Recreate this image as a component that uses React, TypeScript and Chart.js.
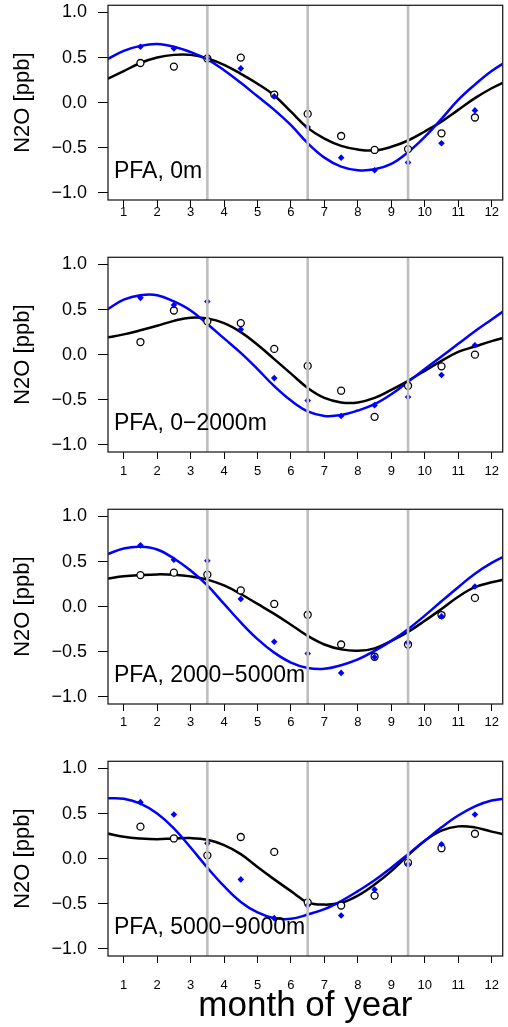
import React, { useEffect, useRef } from "react";
import { Chart, registerables } from "chart.js";

Chart.register(...registerables);

const FONT = '"Liberation Sans", Arial, Helvetica, sans-serif';

// ---------------- data ----------------
const fitMonths = [0.5, 1, 1.5, 2, 2.5, 3, 3.5, 4, 4.5, 5, 5.5, 6, 6.5, 7, 7.5, 8, 8.5, 9, 9.5, 10, 10.5, 11, 11.5, 12, 12.5];
const obsMonths = [1.5, 2.5, 3.5, 4.5, 5.5, 6.5, 7.5, 8.5, 9.5, 10.5, 11.5];
const xTickValues = [1, 2, 3, 4, 5, 6, 7, 8, 9, 10, 11, 12];
const yTickValues = [-1, -0.5, 0, 0.5, 1];
const seasonBounds = [3.5, 6.5, 9.5];
const panelLabels = ["PFA, 0m", "PFA, 0\u22122000m", "PFA, 2000\u22125000m", "PFA, 5000\u22129000m"];

// PFA, 0m
const obsBlack0m = [0.44, 0.40, 0.49, 0.50, 0.09, -0.125, -0.37, -0.525, -0.515, -0.34, -0.165];
const obsBlue0m = [0.62, 0.60, 0.49, 0.38, 0.07, -0.27, -0.61, -0.75, -0.665, -0.45, -0.086];
const fitBlack0m = [0.26, 0.35, 0.44, 0.50, 0.53, 0.53, 0.49, 0.42, 0.32, 0.21, 0.08, -0.10, -0.28, -0.40, -0.48, -0.52, -0.53, -0.49, -0.42, -0.32, -0.21, -0.08, 0.05, 0.16, 0.25];
const fitBlue0m = [0.48, 0.575, 0.63, 0.65, 0.62, 0.56, 0.48, 0.36, 0.22, 0.07, -0.08, -0.25, -0.45, -0.61, -0.71, -0.75, -0.74, -0.68, -0.55, -0.38, -0.18, 0.03, 0.20, 0.35, 0.47];

// PFA, 0-2000m
const obsBlack0to2000 = [0.14, 0.49, 0.37, 0.35, 0.064, -0.125, -0.40, -0.69, -0.345, -0.13, 0.0];
const obsBlue0to2000 = [0.63, 0.55, 0.59, 0.28, -0.26, -0.51, -0.68, -0.56, -0.47, -0.226, 0.105];
const fitBlack0to2000 = [0.19, 0.225, 0.27, 0.32, 0.375, 0.41, 0.40, 0.35, 0.25, 0.11, -0.05, -0.21, -0.37, -0.48, -0.53, -0.53, -0.48, -0.39, -0.29, -0.18, -0.07, 0.03, 0.09, 0.15, 0.20];
const fitBlue0to2000 = [0.50, 0.61, 0.66, 0.66, 0.59, 0.49, 0.34, 0.18, 0.02, -0.16, -0.35, -0.51, -0.63, -0.68, -0.67, -0.62, -0.55, -0.44, -0.30, -0.16, -0.02, 0.12, 0.26, 0.39, 0.52];

// PFA, 2000-5000m
const obsBlack2000to5000 = [0.35, 0.377, 0.355, 0.18, 0.03, -0.09, -0.42, -0.556, -0.42, -0.093, 0.097];
const obsBlue2000to5000 = [0.68, 0.52, 0.51, 0.086, -0.39, -0.52, -0.735, -0.56, -0.40, -0.108, 0.224];
const fitBlack2000to5000 = [0.31, 0.336, 0.35, 0.358, 0.354, 0.336, 0.30, 0.235, 0.14, 0.03, -0.08, -0.20, -0.325, -0.42, -0.474, -0.49, -0.463, -0.38, -0.28, -0.157, -0.026, 0.11, 0.216, 0.27, 0.31];
const fitBlue2000to5000 = [0.58, 0.645, 0.664, 0.634, 0.534, 0.40, 0.235, 0.03, -0.175, -0.36, -0.51, -0.62, -0.68, -0.69, -0.65, -0.586, -0.49, -0.38, -0.25, -0.10, 0.06, 0.216, 0.366, 0.485, 0.58];

// PFA, 5000-9000m
const obsBlack5000to9000 = [0.355, 0.224, 0.037, 0.24, 0.075, -0.485, -0.52, -0.41, -0.045, 0.116, 0.276];
const obsBlue5000to9000 = [0.627, 0.49, 0.17, -0.23, -0.66, -0.52, -0.63, -0.343, -0.063, 0.16, 0.49];
const fitBlack5000to9000 = [0.28, 0.243, 0.224, 0.216, 0.224, 0.228, 0.209, 0.15, 0.05, -0.093, -0.23, -0.36, -0.485, -0.51, -0.49, -0.41, -0.287, -0.138, 0.037, 0.198, 0.31, 0.358, 0.347, 0.30, 0.26];
const fitBlue5000to9000 = [0.67, 0.664, 0.61, 0.50, 0.336, 0.123, -0.10, -0.306, -0.48, -0.597, -0.66, -0.668, -0.62, -0.56, -0.47, -0.36, -0.24, -0.10, 0.05, 0.198, 0.347, 0.478, 0.58, 0.645, 0.67];

const panels = [
  { label: panelLabels[0], obsBlack: obsBlack0m, obsBlue: obsBlue0m, fitBlack: fitBlack0m, fitBlue: fitBlue0m },
  { label: panelLabels[1], obsBlack: obsBlack0to2000, obsBlue: obsBlue0to2000, fitBlack: fitBlack0to2000, fitBlue: fitBlue0to2000 },
  { label: panelLabels[2], obsBlack: obsBlack2000to5000, obsBlue: obsBlue2000to5000, fitBlack: fitBlack2000to5000, fitBlue: fitBlue2000to5000 },
  { label: panelLabels[3], obsBlack: obsBlack5000to9000, obsBlue: obsBlue5000to9000, fitBlack: fitBlack5000to9000, fitBlue: fitBlue5000to9000 },
];

// ---------------- layout ----------------
const WIDTH = 508;
const PANEL_STEP = 252;
const PANEL_H = 252;
const LAST_H = 271;
const AREA_TOP = 5;
const AREA_BOTTOM = 200;
const AXIS_W = 108;
const tickLabelPad = [-1.2, 5.5, 5.2, 15.5];

const toPts = (xs: number[], ys: number[]) => xs.map((x, i) => ({ x, y: ys[i] }));
const fmtY = (v: number) => (v < 0 ? "\u2212" : "") + Math.abs(v).toFixed(1);

function Panel({ idx }: { idx: number }) {
  const ref = useRef<HTMLCanvasElement | null>(null);
  const isLast = idx === panels.length - 1;
  const h = isLast ? LAST_H : PANEL_H;

  useEffect(() => {
    if (!ref.current) return;
    const p = panels[idx];

    const overlay = {
      id: "overlay" + idx,
      afterDatasetsDraw(chart: any) {
        const { ctx, chartArea: a, scales } = chart;
        const xs = scales.x;
        ctx.save();
        ctx.strokeStyle = "#bebebe";
        ctx.lineWidth = 2.6;
        seasonBounds.forEach((m) => {
          const px = xs.getPixelForValue(m);
          ctx.beginPath();
          ctx.moveTo(px, a.top);
          ctx.lineTo(px, a.bottom);
          ctx.stroke();
        });
        ctx.fillStyle = "#000";
        ctx.font = "23px " + FONT;
        ctx.textBaseline = "alphabetic";
        ctx.textAlign = "left";
        ctx.fillText(p.label, a.left + 6, a.top + 173);
        ctx.strokeStyle = "#222";
        ctx.lineWidth = 1.3;
        ctx.strokeRect(a.left, a.top, a.right - a.left, a.bottom - a.top);
        ctx.restore();
      },
    };

    const chart = new Chart(ref.current, {
      type: "scatter",
      data: {
        datasets: [
          {
            label: "blue obs",
            data: toPts(obsMonths, p.obsBlue),
            pointStyle: "rectRot",
            pointRadius: 3.3,
            backgroundColor: "#0000ff",
            borderColor: "#0000ff",
            borderWidth: 0,
            order: 1,
          },
          {
            label: "black obs",
            data: toPts(obsMonths, p.obsBlack),
            pointStyle: "circle",
            pointRadius: 3.5,
            backgroundColor: "#ffffff",
            borderColor: "#000000",
            borderWidth: 1.3,
            order: 2,
          },
          {
            label: "blue fit",
            data: toPts(fitMonths, p.fitBlue),
            showLine: true,
            pointRadius: 0,
            borderColor: "#0000ff",
            backgroundColor: "#0000ff",
            borderWidth: 2.5,
            tension: 0.4,
            clip: 0,
            order: 3,
          },
          {
            label: "black fit",
            data: toPts(fitMonths, p.fitBlack),
            showLine: true,
            pointRadius: 0,
            borderColor: "#000000",
            backgroundColor: "#000000",
            borderWidth: 2.5,
            tension: 0.4,
            clip: 0,
            order: 4,
          },
        ],
      } as any,
      options: {
        responsive: false,
        animation: false,
        devicePixelRatio: 1,
        layout: { padding: { top: AREA_TOP, right: 1, left: 0, bottom: 0 } },
        plugins: { legend: { display: false }, tooltip: { enabled: false } },
        scales: {
          x: {
            type: "linear",
            min: 0.53,
            max: 12.33,
            afterBuildTicks: (s: any) => {
              s.ticks = xTickValues.map((v) => ({ value: v }));
            },
            afterFit: (s: any) => {
              s.height = h - AREA_BOTTOM;
              s.paddingLeft = 0;
              s.paddingRight = 0;
              s.paddingTop = 0;
              s.paddingBottom = 0;
            },
            ticks: {
              autoSkip: false,
              maxRotation: 0,
              color: "#000",
              padding: tickLabelPad[idx],
              font: { family: FONT, size: 13, lineHeight: 1 },
              callback: (v: any) => String(v),
            },
            grid: { drawOnChartArea: false, drawTicks: true, tickLength: 7, color: "#000", lineWidth: 1 },
            border: { display: false },
            title: {
              display: isLast,
              text: "month of year",
              color: "#000",
              font: { family: FONT, size: 35, lineHeight: 1 },
              padding: { top: 0, bottom: 3 },
            },
          },
          y: {
            type: "linear",
            min: -1.08,
            max: 1.08,
            afterBuildTicks: (s: any) => {
              s.ticks = yTickValues.map((v) => ({ value: v }));
            },
            afterFit: (s: any) => {
              s.width = AXIS_W;
              s.paddingLeft = 0;
              s.paddingRight = 0;
              s.paddingTop = 0;
              s.paddingBottom = 0;
            },
            ticks: {
              color: "#000",
              padding: 11,
              font: { family: FONT, size: 18 },
              callback: (v: any) => fmtY(Number(v)),
            },
            grid: { drawOnChartArea: false, drawTicks: true, tickLength: 10, color: "#000", lineWidth: 1 },
            border: { display: false },
            title: {
              display: true,
              text: "N2O [ppb]",
              color: "#000",
              font: { family: FONT, size: 22, lineHeight: 1 },
              padding: { top: 12, bottom: 0 },
            },
          },
        },
      } as any,
      plugins: [overlay],
    });
    return () => chart.destroy();
  }, [idx, h]);

  return (
    <canvas
      ref={ref}
      width={WIDTH}
      height={h}
      style={{ position: "absolute", left: 0, top: idx * PANEL_STEP, width: WIDTH, height: h, display: "block" }}
    />
  );
}

export default function App() {
  return (
    <div style={{ position: "absolute", left: 0, top: 0, width: WIDTH, height: 1027, background: "#ffffff", overflow: "hidden" }}>
      {panels.map((_, i) => (
        <Panel key={i} idx={i} />
      ))}
    </div>
  );
}
